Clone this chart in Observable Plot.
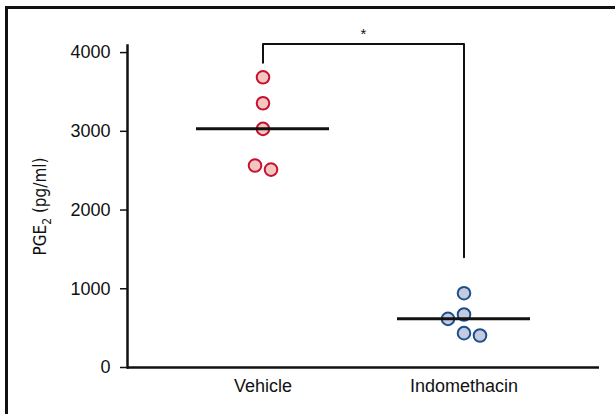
<!DOCTYPE html>
<html>
<head>
<meta charset="utf-8">
<script src="https://cdn.jsdelivr.net/npm/d3@7"></script>
<script src="https://cdn.jsdelivr.net/npm/@observablehq/plot@0.6"></script>
<style>
  html, body { margin: 0; padding: 0; background: #fff; }
  #wrap { position: relative; width: 615px; height: 414px; overflow: hidden; }
  #border { position: absolute; left: 5px; top: 6px; width: 800px; height: 600px;
            border-left: 3px solid #111; border-top: 3px solid #111; box-sizing: border-box; pointer-events: none; }
  .ylab { font-stretch: condensed; }
</style>
</head>
<body>
<div id="wrap"><div id="border"></div></div>
<script>
const groups = ["Vehicle", "Indomethacin"];
const vehicleValues = [3686, 3356, 3031, 2565, 2514];
const vehicleSlots = [0, 0, 0, -1, 1];
const indoValues = [944, 673, 618, 436, 406];
const indoSlots = [0, 0, -2, 0, 2];
const medianValues = [3031, 618];
const yTicks = [0, 1000, 2000, 3000, 4000];
const bracketGroups = ["Vehicle", "Vehicle", "Indomethacin", "Indomethacin"];
const bracketValues = [3870, 4110, 4110, 1400];
const sigLabel = "*";
const yLabel = "PGE2 (pg/ml)";

const fillColors = {Vehicle: "#f2c6c1", Indomethacin: "#c4cbe0"};
const strokeColors = {Vehicle: "#c8102e", Indomethacin: "#1d4f8a"};

const points = [
  ...vehicleValues.map((v, i) => ({group: "Vehicle", value: v, slot: vehicleSlots[i]})),
  ...indoValues.map((v, i) => ({group: "Indomethacin", value: v, slot: indoSlots[i]}))
];
const medians = groups.map((g, i) => ({group: g, value: medianValues[i]}));
const bracket = bracketGroups.map((g, i) => ({group: g, value: bracketValues[i]}));

const slotWidth = 8;
const slotMarks = [-2, -1, 0, 1, 2].map(s =>
  Plot.dot(points.filter(p => p.slot === s), {
    x: "group", y: "value", r: 6.3, dx: s * slotWidth,
    fill: d => fillColors[d.group], stroke: d => strokeColors[d.group], strokeWidth: 2
  })
);

const chart = Plot.plot({
  width: 615,
  height: 414,
  marginLeft: 127,
  marginRight: 16,
  marginTop: 45,
  marginBottom: 47,
  style: {fontFamily: "'Liberation Sans', Arial, sans-serif", fontSize: "18px", color: "#111", background: "transparent"},
  color: {type: "identity"},
  x: {type: "band", domain: groups, padding: 0.337, label: null},
  y: {domain: [0, 4090], label: null},
  marks: [
    Plot.axisY({ticks: yTicks, tickFormat: d3.format("d"), tickSize: 7, tickPadding: 10, strokeWidth: 1.5, label: null, fontSize: 18}),
    Plot.axisX({tickSize: 0, tickPadding: 12, label: null, fontSize: 18}),
    Plot.ruleY([0], {stroke: "#111", strokeWidth: 2.5}),
    Plot.frame({anchor: "left", stroke: "#111", strokeWidth: 2.5}),
    Plot.line(bracket, {x: "group", y: "value", stroke: "#111", strokeWidth: 2}),
    Plot.text([sigLabel], {y: 4235, text: d => d, fontSize: 15, fill: "#111"}),
    ...slotMarks,
    Plot.tickY(medians, {x: "group", y: "value", stroke: "#111", strokeWidth: 3}),
    Plot.text([yLabel], {frameAnchor: "left", dx: -87, rotate: -90, text: d => d, textAnchor: "middle",
      fontSize: 17, className: "ylab",
      fontFamily: "'Liberation Sans Narrow', 'DejaVu Sans Condensed', sans-serif", fill: "#111"})
  ]
});

document.getElementById("wrap").prepend(chart);

d3.select(chart).selectAll("text").filter(function() { return this.textContent === yLabel; })
  .each(function() {
    const t = d3.select(this);
    t.text(null);
    t.append("tspan").text("PGE");
    t.append("tspan").text("2").attr("font-size", 12).attr("dy", 5);
    t.append("tspan").text(" (pg/ml)").attr("dy", -5);
  });
</script>
</body>
</html>
